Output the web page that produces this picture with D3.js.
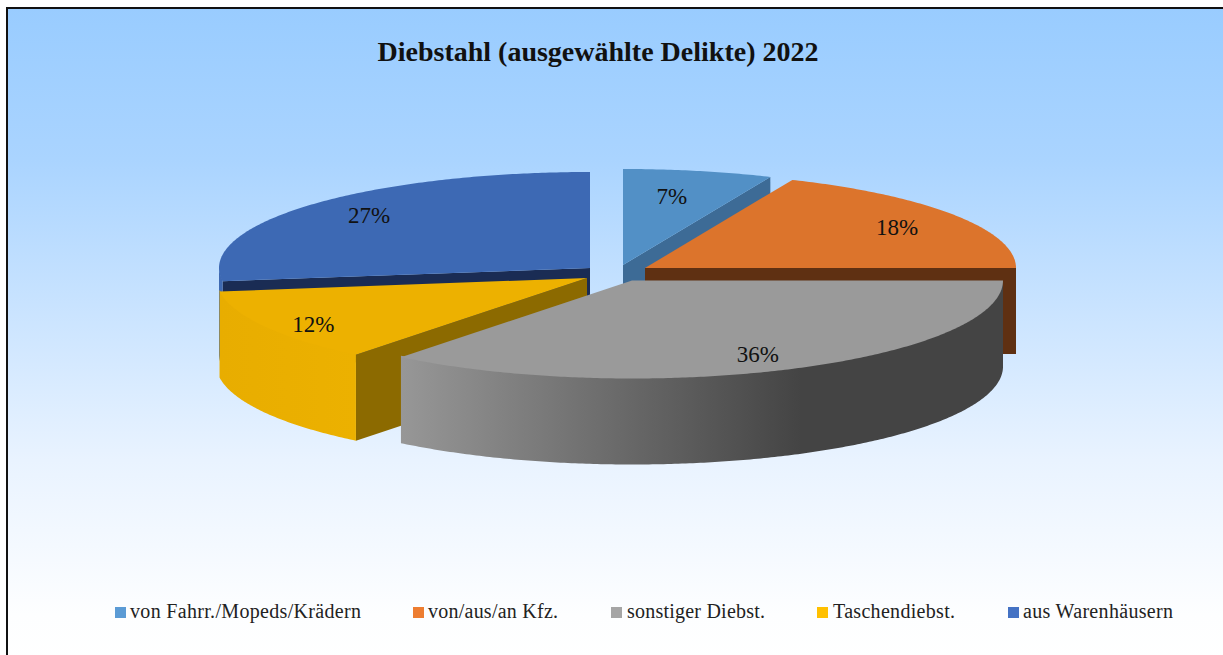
<!DOCTYPE html>
<html><head><meta charset="utf-8">
<script src="https://cdn.jsdelivr.net/npm/d3@7"></script>
<style>html,body{margin:0;padding:0;background:#fff;overflow:hidden}svg{display:block}</style>
</head><body><svg id="c" width="1223" height="655"></svg>
<script>
const chartTitle = "Diebstahl (ausgewählte Delikte) 2022";
const categories = ["von Fahrr./Mopeds/Krädern","von/aus/an Kfz.","sonstiger Diebst.","Taschendiebst.","aus Warenhäusern"];
const shares = [6.5,18.49,35.71,12.1,27.2];
const legendColors = ["#5b9bd5","#ed7d31","#a5a5a5","#ffc000","#4472c4"];
const topColors = ["#5290c6","#dc742c","#9a9a9a","#edb100","#3d69b4"];
const wallColors = ["#3d6b96","#5f3012","#444444","#8c6a00","#1a2c54"];
const rimStops = [["#3d6b96","#3d6b96"],["#5f3012","#5f3012"],["#979797","#444444"],["#e8ad00","#ecb100"],["#3e69b2","#3e69b2"]];
// layout
const centresX = [623,645,632,587,590], centresY = [265,268,280.5,278,268];
const radiiY = [96,96,98,98,96];
const visibleWall = ["end","end",null,"start","start"];
const labelFrac = [.73,.805,.82,.875,.815], labelNudgeDeg = [-1.3,.9,1.3,-2.8,2];
const legendSwatchX = [115,413,611,817,1008], legendTextX = [130,428,627,833,1023], legendTextW = [231,130,138,122,150];
const rx = 371, depth = 86;
const drawOrder = [0,4,1,3,2];

const svg = d3.select("#c");
const defs = svg.append("defs");
const bg = defs.append("linearGradient").attr("id","bg").attr("x1",0).attr("x2",0).attr("y1",0).attr("y2",1);
[[0,"#99ccff"],[.23,"#aad4ff"],[.685,"#e9f3ff"],[.92,"#fdfeff"],[1,"#ffffff"]].forEach(s=>bg.append("stop").attr("offset",s[0]).attr("stop-color",s[1]));
svg.append("rect").attr("x",7).attr("y",8).attr("width",1230).attr("height",660).attr("fill","url(#bg)").attr("stroke","#111").attr("stroke-width",2);

const slices = d3.pie().sort(null).value(d=>d)(shares);
const px = (i,a,z=0)=>[centresX[i]+rx*Math.sin(a), centresY[i]-radiiY[i]*Math.cos(a)+z];
const line = d3.line();
const sample = (a0,a1)=>{const n=Math.max(2,Math.ceil(Math.abs(a1-a0)/0.01));return d3.range(n+1).map(k=>a0+(a1-a0)*k/n);};

drawOrder.forEach(i=>{
  const s = slices[i], a0=s.startAngle, a1=s.endAngle;
  const g = svg.append("g");
  const c=[centresX[i],centresY[i]];
  // radial wall facing the viewer
  if (visibleWall[i]){
    const e=px(i,visibleWall[i]==="end"?a1:a0);
    g.append("path").attr("d",line([c,e,[e[0],e[1]+depth],[c[0],c[1]+depth]])+"Z").attr("fill",wallColors[i]);
  }
  // outer rim, tucked slightly under the top face so no seam shows
  const r0=Math.max(a0,Math.PI/2), r1=Math.min(a1,3*Math.PI/2);
  if (r1>r0){
    const id="rim"+i;
    const xs=sample(r0,r1).map(a=>px(i,a)[0]);
    const gr=defs.append("linearGradient").attr("id",id).attr("gradientUnits","userSpaceOnUse")
      .attr("x1",d3.min(xs)).attr("x2",i===2?d3.min(xs)+400:d3.max(xs)).attr("y1",0).attr("y2",0);
    gr.append("stop").attr("offset",0).attr("stop-color",rimStops[i][0]);
    gr.append("stop").attr("offset",1).attr("stop-color",rimStops[i][1]);
    const up=sample(r0,r1).map(a=>px(i,a,-1.5)), dn=sample(r1,r0).map(a=>px(i,a,depth));
    g.append("path").attr("d",line(up.concat(dn))+"Z").attr("fill",`url(#${id})`);
  }
  // top face
  g.append("path").attr("d",line([c].concat(sample(a0,a1).map(a=>px(i,a))))+"Z").attr("fill",topColors[i]);
});

const serif = "'Liberation Serif','Times New Roman',serif";
slices.forEach((s,i)=>{
  const m=(s.startAngle+s.endAngle)/2+labelNudgeDeg[i]*Math.PI/180;
  svg.append("text").attr("x",centresX[i]+rx*labelFrac[i]*Math.sin(m)).attr("y",centresY[i]-radiiY[i]*labelFrac[i]*Math.cos(m))
    .attr("dy",".35em").attr("text-anchor","middle").attr("font-family",serif).attr("font-size",23).attr("fill","#111")
    .text(Math.round(shares[i])+"%");
});
svg.append("text").attr("x",598).attr("y",61).attr("text-anchor","middle").attr("font-family",serif)
  .attr("font-weight","bold").attr("font-size",28).attr("fill","#111").text(chartTitle);
categories.forEach((c,i)=>{
  svg.append("rect").attr("x",legendSwatchX[i]).attr("y",607).attr("width",11).attr("height",11).attr("fill",legendColors[i]);
  svg.append("text").attr("x",legendTextX[i]).attr("y",618).attr("font-family",serif).attr("font-size",20).attr("fill","#222")
    .attr("textLength",legendTextW[i]).attr("lengthAdjust","spacing").text(c);
});
</script></body></html>
